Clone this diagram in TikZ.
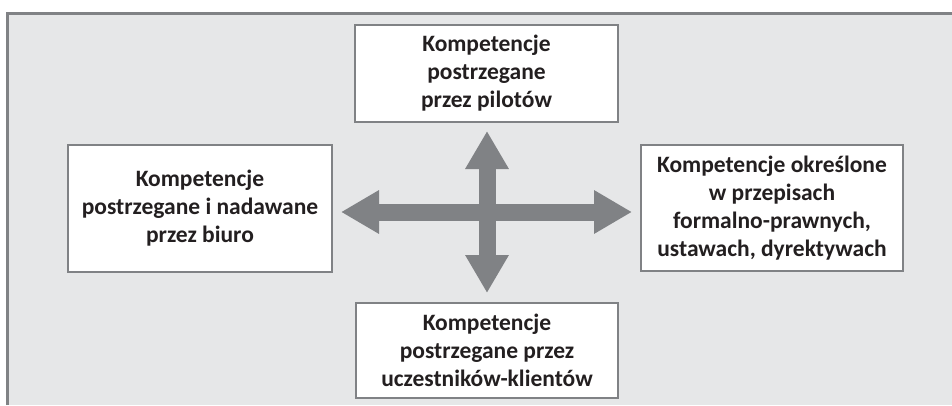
\documentclass[tikz,border=0pt]{standalone}
\usepackage{fontspec}
\setmainfont{Carlito}
\usetikzlibrary{arrows.meta}
\definecolor{bg}{HTML}{E6E7E8}
\definecolor{framec}{HTML}{808285}
\definecolor{arr}{HTML}{808285}
\definecolor{txt}{HTML}{231F20}
\begin{document}
\begin{tikzpicture}[x=1pt,y=1pt,
  box/.style={draw=framec, line width=2pt, fill=white, align=center,
    font=\fontsize{23.5}{28}\selectfont\bfseries, text=txt, inner sep=0pt},
  bigarrow/.style={draw=arr, line width=17pt,
    {Triangle[length=38pt,width=41pt]}-{Triangle[length=38pt,width=41pt]}}]
\useasboundingbox (0,0) rectangle (952,405);
\fill[white] (0,0) rectangle (952,405);
\fill[bg] (6,0) rectangle (952,393);
\draw[framec, line width=3pt] (7.5,0) -- (7.5,391.5) -- (952,391.5);

\node[box, minimum width=263pt, minimum height=97pt] (top) at (486.5,331.5)
  {Kompetencje\\postrzegane\\przez pilotów};
\node[box, minimum width=264pt, minimum height=127pt] (left) at (200,196.5)
  {Kompetencje\\postrzegane i nadawane\\przez biuro};
\node[box, minimum width=262pt, minimum height=126pt] (right) at (772,197)
  {Kompetencje określone\\w przepisach\\formalno-prawnych,\\ustawach, dyrektywach};
\node[box, minimum width=262pt, minimum height=95pt] (bottom) at (487,54.5)
  {Kompetencje\\postrzegane przez\\uczestników-klientów};

\coordinate (L) at (341,193);
\coordinate (R) at (632,193);
\coordinate (T) at (487,274);
\coordinate (B) at (487,112);
\draw[bigarrow] (L) -- (R);
\draw[bigarrow] (B) -- (T);
\end{tikzpicture}
\end{document}
